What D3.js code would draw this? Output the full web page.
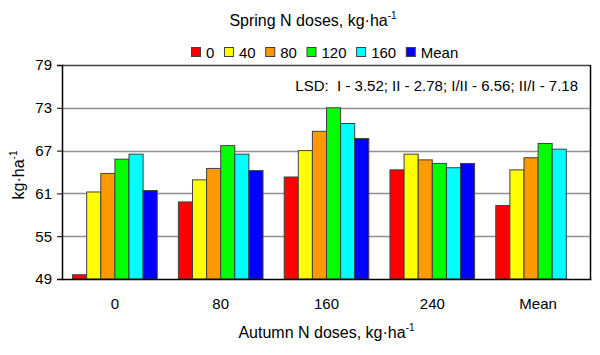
<!DOCTYPE html>
<html><head><meta charset="utf-8">
<script src="https://cdn.jsdelivr.net/npm/d3@7"></script>
<style>body{margin:0;background:#fff}svg{display:block}text{font-family:"Liberation Sans",Arial,sans-serif;fill:#000}</style>
</head><body>
<svg id="c" width="600" height="355"></svg>
<script>
const categories = ["0", "80", "160", "240", "Mean"];
const seriesNames = ["0", "40", "80", "120", "160", "Mean"];
const seriesColors = ["#FF0000", "#FFFF00", "#FF9900", "#00FF00", "#00FFFF", "#0000FF"];
const s0 = [49.6, 59.8, 63.3, 64.3, 59.3];
const s40 = [61.2, 62.9, 67.0, 66.5, 64.3];
const s80 = [63.8, 64.5, 69.7, 65.7, 66.0];
const s120 = [65.8, 67.7, 73.0, 65.2, 68.0];
const s160 = [66.5, 66.5, 70.8, 64.6, 67.2];
const sMean = [61.4, 64.2, 68.7, 65.2, null];
const yTicks = [49, 55, 61, 67, 73, 79];
const lsdText = "LSD:  I - 3.52; II - 2.78; I/II - 6.56; II/I - 7.18";

const series = [s0, s40, s80, s120, s160, sMean];
const svg = d3.select("#c");
const L = 62, R = 591, T = 65, B = 279;
const FONT = "Liberation Sans, Arial, sans-serif";

const y = d3.scaleLinear().domain([49, 79]).range([B, T]);
const x0 = d3.scaleBand().domain(categories).range([L, R]).paddingInner(0.2).paddingOuter(0.1);
const x1 = d3.scaleBand().domain(d3.range(seriesNames.length)).range([0, x0.bandwidth()]);

// gridlines
svg.append("g").selectAll("line").data(yTicks.filter(t => t > 49 && t < 79)).join("line")
  .attr("x1", L).attr("x2", R).attr("y1", d => Math.round(y(d)) + 0.5).attr("y2", d => Math.round(y(d)) + 0.5)
  .attr("stroke", "#909090").attr("stroke-width", 1.3);

// bars
const rows = [];
categories.forEach((c, ci) => series.forEach((s, si) => {
  if (s[ci] != null) rows.push({c, si, v: s[ci]});
}));
svg.append("g").selectAll("rect").data(rows).join("rect")
  .attr("x", d => x0(d.c) + x1(d.si))
  .attr("y", d => y(d.v))
  .attr("width", x1.bandwidth())
  .attr("height", d => y(49) - y(d.v))
  .attr("fill", d => seriesColors[d.si])
  .attr("stroke", "#404040").attr("stroke-width", 1);

// frame
svg.append("line").attr("x1", L).attr("x2", R).attr("y1", T + 0.5).attr("y2", T + 0.5).attr("stroke", "#404040").attr("stroke-width", 1.5);
svg.append("line").attr("x1", R - 0.5).attr("x2", R - 0.5).attr("y1", T).attr("y2", B).attr("stroke", "#000").attr("stroke-width", 1.5);

// y axis
const ya = d3.axisLeft(y).tickValues(yTicks).tickSize(5).tickPadding(5).tickFormat(d3.format("d"));
const gy = svg.append("g").attr("transform", `translate(${L},0)`).call(ya);
gy.select(".domain").attr("stroke", "#000").attr("stroke-width", 1.5);
gy.selectAll(".tick line").attr("stroke", "#000");
gy.selectAll(".tick text").style("font-size", "15px").style("font-family", FONT);

// x axis
const xa = d3.axisBottom(x0).tickSize(0).tickPadding(19);
const gx = svg.append("g").attr("transform", `translate(0,${B})`).call(xa);
gx.select(".domain").attr("stroke", "#000").attr("stroke-width", 1.5);
gx.selectAll(".tick text").style("font-size", "15px").style("font-family", FONT);

function supText(sel, main, sup) {
  sel.append("tspan").text(main);
  sel.append("tspan").text(sup).attr("font-size", 10).attr("dy", -7);
}
// title
supText(svg.append("text").attr("x", 313).attr("y", 26).attr("text-anchor", "middle").attr("font-size", 16), "Spring N doses, kg·ha", "-1");
// x title
supText(svg.append("text").attr("x", (L + R) / 2).attr("y", 338).attr("text-anchor", "middle").attr("font-size", 16), "Autumn N doses, kg·ha", "-1");
// y title
supText(svg.append("text").attr("transform", "translate(24,175) rotate(-90)").attr("text-anchor", "middle").attr("font-size", 16), "kg·ha", "-1");

// LSD
svg.append("text").attr("x", 578).attr("y", 91).attr("text-anchor", "end").attr("font-size", 15)
  .attr("xml:space", "preserve").style("white-space", "pre").text(lsdText);

// legend
const lg = svg.append("g");
let cx = 0;
seriesNames.forEach((n, i) => {
  const g = lg.append("g").attr("transform", `translate(${cx},0)`);
  g.append("rect").attr("x", 0.5).attr("y", 47.5).attr("width", 9).attr("height", 9).attr("fill", seriesColors[i]).attr("stroke", "#404040");
  const t = g.append("text").attr("x", 15).attr("y", 57.5).attr("font-size", 15).text(n);
  cx += 15 + t.node().getComputedTextLength() + 9.6;
});
lg.attr("transform", "translate(191,0)");
</script>
</body></html>
